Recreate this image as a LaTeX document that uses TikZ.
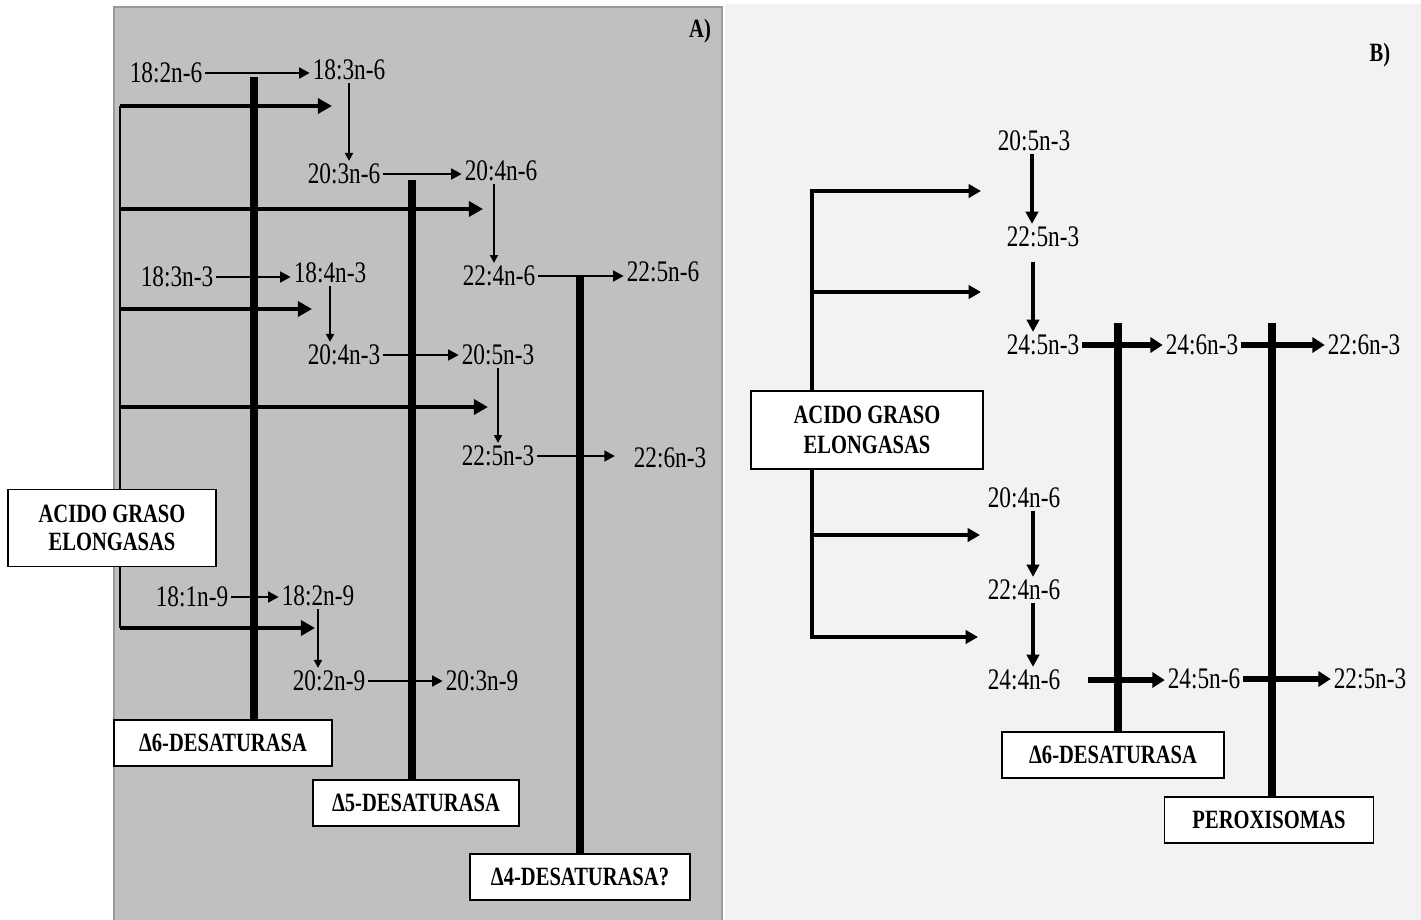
\documentclass[tikz,border=0pt]{standalone}
\usepackage{fontspec}
\setmainfont{Liberation Serif}[FakeStretch=0.78]
\usetikzlibrary{arrows.meta}

\definecolor{panelA}{HTML}{C0C0C0}
\definecolor{panelAedge}{HTML}{999999}
\definecolor{panelB}{HTML}{F2F2F2}

\tikzset{
  acid/.style={inner sep=1.5pt, font=\fontsize{17}{19}\selectfont},
  enzbox/.style={draw, fill=white, line width=1pt, inner xsep=0.3cm, minimum height=0.92cm,
    align=center, font=\bfseries\fontsize{15}{15}\selectfont},
  panelname/.style={inner sep=0pt, font=\bfseries\fontsize{15}{16}\selectfont},
  stepA/.style={line width=1.5pt, -{Triangle[length=6pt,width=6pt]}},
  downA/.style={line width=1.1pt, -{Triangle[length=4.5pt,width=4.5pt]}},
  elonglineA/.style={line width=1.4pt},
  elongA/.style={line width=2.6pt, -{Triangle[length=8pt,width=8.5pt]}},
  barA/.style={line width=4.9pt},
  stepB/.style={line width=3.2pt, -{Triangle[length=7pt,width=8.5pt]}},
  downB/.style={line width=2pt, -{Triangle[length=7pt,width=7pt]}},
  elongB/.style={line width=2.3pt, -{Triangle[length=7pt,width=7.5pt]}},
  barB/.style={line width=4pt}
}

\begin{document}
\begin{tikzpicture}[x=0.02cm, y=-0.02cm]
  \useasboundingbox (0,0) rectangle (1421,920);
  % panels
  \fill[white] (0,0) rectangle (1421,920);
  \filldraw[fill=panelA, draw=panelAedge, line width=0.6pt] (114,924) -- (114,7) -- (722,7) -- (722,924);
  \fill[panelB] (725,4) rectangle (1421,920);
  \node[panelname] (tagA) at (700,31) {A)};
  \node[panelname] (tagB) at (1380,55) {B)};

  % ---------- panel A ----------
  \node[acid] (a182n6) at (166,73) {18:2n-6};
  \node[acid] (a183n6) at (349,70) {18:3n-6};
  \node[acid] (a203n6) at (344,174) {20:3n-6};
  \node[acid] (a204n6) at (501,171) {20:4n-6};
  \node[acid] (a224n6) at (499,276) {22:4n-6};
  \node[acid] (a225n6) at (663,272) {22:5n-6};
  \node[acid] (a183n3) at (177,277) {18:3n-3};
  \node[acid] (a184n3) at (330,273) {18:4n-3};
  \node[acid] (a204n3) at (344,355) {20:4n-3};
  \node[acid] (a205n3) at (498,355) {20:5n-3};
  \node[acid] (a225n3) at (498,456) {22:5n-3};
  \node[acid] (a226n3) at (670,458) {22:6n-3};
  \node[acid] (a181n9) at (192,597) {18:1n-9};
  \node[acid] (a182n9) at (318,596) {18:2n-9};
  \node[acid] (a202n9) at (329,681) {20:2n-9};
  \node[acid] (a203n9) at (482,681) {20:3n-9};

  \node[enzbox, minimum width=4.16cm, minimum height=1.54cm] (elA) at (112,528) {ACIDO GRASO\\[1.2pt]ELONGASAS};
  \node[enzbox, minimum width=4.36cm] (d6A) at (223,743) {Δ6-DESATURASA};
  \node[enzbox, minimum width=4.12cm] (d5A) at (416,803) {Δ5-DESATURASA};
  \node[enzbox, minimum width=4.4cm] (d4A) at (580,877) {Δ4-DESATURASA?};

  % desaturase bars
  \coordinate (d6Atop) at (254,77);
  \coordinate (d5Atop) at (412,180);
  \coordinate (d4Atop) at (580,275);
  \draw[barA] (d6A.north -| d6Atop) -- (d6Atop);
  \draw[barA] (d5A.north -| d5Atop) -- (d5Atop);
  \draw[barA] (d4A.north -| d4Atop) -- (d4Atop);

  % elongase line
  \coordinate (elAtop) at (120,106);
  \coordinate (elAbot) at (120,628);
  \draw[elonglineA] (elAtop) -- (elAtop |- elA.north);
  \draw[elonglineA] (elAtop |- elA.south) -- (elAbot);
  \foreach \ex/\ey [count=\i] in {332/106, 483/209, 312/309, 488/407, 315/628}{
    \coordinate (eA\i) at (\ex,\ey);
    \draw[elongA] (elAtop |- eA\i) -- (eA\i);
  }

  % desaturation steps
  \draw[stepA] (a182n6) -- (a182n6 -| a183n6.west);
  \draw[stepA] (a203n6) -- (a203n6 -| a204n6.west);
  \draw[stepA] (a224n6) -- (a224n6 -| a225n6.west);
  \draw[stepA] (a183n3) -- (a183n3 -| a184n3.west);
  \draw[stepA] (a204n3) -- (a204n3 -| a205n3.west);
  \draw[stepA, shorten >=9pt] (a225n3) -- (a225n3 -| a226n3.west);
  \draw[stepA] (a181n9) -- (a181n9 -| a182n9.west);
  \draw[stepA] (a202n9) -- (a202n9 -| a203n9.west);

  % elongation steps
  \draw[downA] (a183n6) -- (a183n6 |- a203n6.north);
  \draw[downA] (a204n6.south -| 494,0) -- (a224n6.north -| 494,0);
  \draw[downA] (a184n3) -- (a184n3 |- a204n3.north);
  \draw[downA] (a205n3) -- (a205n3 |- a225n3.north);
  \draw[downA] (a182n9) -- (a182n9 |- a202n9.north);

  % ---------- panel B ----------
  \node[acid] (b205n3) at (1034,141) {20:5n-3};
  \node[acid] (b225n3) at (1043,237) {22:5n-3};
  \node[acid] (b245n3) at (1043,345) {24:5n-3};
  \node[acid] (b246n3) at (1202,345) {24:6n-3};
  \node[acid] (b226n3) at (1364,345) {22:6n-3};
  \node[acid] (b204n6) at (1024,498) {20:4n-6};
  \node[acid] (b224n6) at (1024,590) {22:4n-6};
  \node[acid] (b244n6) at (1024,680) {24:4n-6};
  \node[acid] (b245n6) at (1204,679) {24:5n-6};
  \node[acid] (b225n3b) at (1370,679) {22:5n-3};

  \node[enzbox, minimum width=4.64cm, minimum height=1.56cm] (elB) at (867,430) {ACIDO GRASO\\[1.8pt]ELONGASAS};
  \node[enzbox, minimum width=4.44cm] (d6B) at (1113,755) {Δ6-DESATURASA};
  \node[enzbox, minimum width=4.18cm] (pxB) at (1269,820) {PEROXISOMAS};

  \coordinate (d6Btop) at (1118,323);
  \coordinate (pxBtop) at (1272,323);
  \draw[barB] (d6B.north -| d6Btop) -- (d6Btop);
  \draw[barB] (pxB.north -| pxBtop) -- (pxBtop);

  % elongase line
  \coordinate (elBline) at (812,430);
  \coordinate (eB1) at (981,191);
  \coordinate (eB2) at (981,292);
  \coordinate (eB3) at (980,535);
  \coordinate (eB4) at (978,637);
  \draw[elongB] (elB.north -| elBline) |- (eB1);
  \draw[elongB] (elBline |- eB2) -- (eB2);
  \draw[elongB] (elBline |- eB3) -- (eB3);
  \draw[elongB] (elB.south -| elBline) |- (eB4);

  \draw[downB] (b205n3.south -| 1032,0) -- (b225n3.north -| 1032,0);
  \draw[downB] (b225n3.south -| 1033,0) ++(0,12) -- (b245n3.north -| 1033,0);
  \draw[downB] (b204n6.south -| 1033,0) -- (b224n6.north -| 1033,0);
  \draw[downB] (b224n6.south -| 1033,0) -- (b244n6.north -| 1033,0);

  \draw[stepB] (b245n3) -- (b245n3 -| b246n3.west);
  \draw[stepB] (b246n3) -- (b246n3 -| b226n3.west);
  \draw[stepB, shorten <=14pt] (b244n6) -- (b244n6 -| b245n6.west);
  \draw[stepB] (b245n6) -- (b245n6 -| b225n3b.west);
\end{tikzpicture}
\end{document}
